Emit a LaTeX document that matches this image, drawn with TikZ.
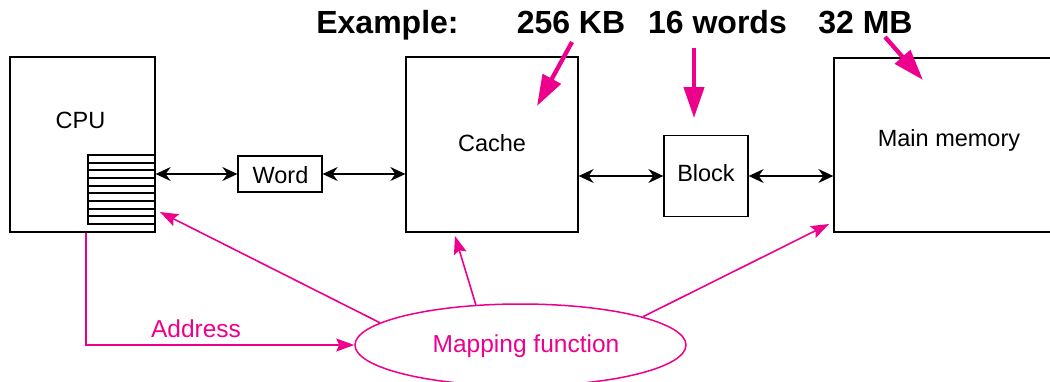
\documentclass[tikz,border=0pt]{standalone}
\usepackage{fontspec}
\setmainfont{Liberation Sans}
\usetikzlibrary{arrows.meta,shapes.geometric,calc}
\definecolor{mag}{RGB}{236,0,140}
\begin{document}
\begin{tikzpicture}[x=1pt,y=-1pt,
  box/.style={draw, line width=1.3pt, inner sep=0pt},
  txt/.style={font=\fontsize{23.5}{28}\selectfont, anchor=base, inner sep=0pt},
  bigtxt/.style={font=\bfseries\fontsize{32}{38}\selectfont, anchor=base, inner sep=0pt},
  magtxt/.style={font=\fontsize{24.5}{29}\selectfont, text=mag, anchor=base, inner sep=0pt},
  dataflow/.style={line width=1.3pt,
    {Stealth[length=15pt,width=14pt,inset=5pt]}-{Stealth[length=15pt,width=14pt,inset=5pt]}},
  pointer/.style={draw=mag, line width=4.3pt, -{Triangle[length=31pt,width=20pt,fill=mag]}},
  maplink/.style={draw=mag, line width=1.6pt, -{Stealth[length=18pt,width=13pt,inset=3pt,fill=mag]}}]
\useasboundingbox (0,0) rectangle (1050,381);
\clip (0,0) rectangle (1050,381);

% boxes
\node[box, minimum width=145pt, minimum height=175pt] (cpu) at (82.5,144.5) {};
\node[box, minimum width=67pt, minimum height=69pt] (reg) at (121.5,189.5) {};
\foreach \d in {8.5,15.5,23.5,31.5,38.5,46.5,54.5,61.5}
  \draw[line width=1.5pt] ($(reg.north west)+(0,\d)$) -- ++(67,0);
\node[box, minimum width=84pt, minimum height=36pt] (word) at (280,174) {};
\node[box, minimum width=172pt, minimum height=175pt] (cache) at (492,144.5) {};
\node[box, minimum width=84pt, minimum height=81pt] (block) at (706,176) {};
\node[box, minimum width=236pt, minimum height=174pt] (mem) at (952,145) {};
\node[draw=mag, line width=1.5pt, ellipse, inner sep=0pt,
      minimum width=331pt, minimum height=82pt] (map) at (520.5,345) {};

% labels
\node[txt] (cputxt) at (80.5,128) {CPU};
\node[txt] (wordtxt) at (280.5,183) {Word};
\node[txt] (cachetxt) at (492,151) {Cache};
\node[txt] (blocktxt) at (706,181) {Block};
\node[txt] (memtxt) at (949,146) {Main memory};
\node[magtxt] (maptxt) at (526,352) {Mapping function};
\node[magtxt] (addrtxt) at (196,337) {Address};

\node[bigtxt] (ex) at (387.5,33) {Example:};
\node[bigtxt] (szcache) at (571,33) {256 KB};
\node[bigtxt] (szblock) at (717.5,33) {16 words};
\node[bigtxt] (szmem) at (865.5,33) {32 MB};

% data paths
\draw[dataflow] (word.west -| cpu.east) -- (word.west);
\draw[dataflow] (word.east) -- (word.east -| cache.west);
\draw[dataflow] (block.west -| cache.east) -- (block.west);
\draw[dataflow] (block.east) -- (block.east -| mem.west);

% size pointers
\coordinate (p1s) at (572,42);  \coordinate (p1e) at (537,106);
\coordinate (p2s) at (694,48);  \coordinate (p2e) at (694,118);
\coordinate (p3s) at (885,37);  \coordinate (p3e) at (923,80);
\draw[pointer] (p1s) -- (p1e);
\draw[pointer] (p2s) -- (p2e);
\draw[pointer] (p3s) -- (p3e);

% mapping function links
\coordinate (regtip) at (160,212);
\coordinate (cachetip) at (455,236);
\coordinate (memtip) at (829,224);
\draw[maplink] ($(cpu.south west)+(76.5,0)$) |- (map.west);
\draw[maplink] (map.171) -- (regtip);
\draw[maplink] (map.138.7) -- (cachetip);
\draw[maplink] (map.13.5) -- (memtip);
\end{tikzpicture}
\end{document}
